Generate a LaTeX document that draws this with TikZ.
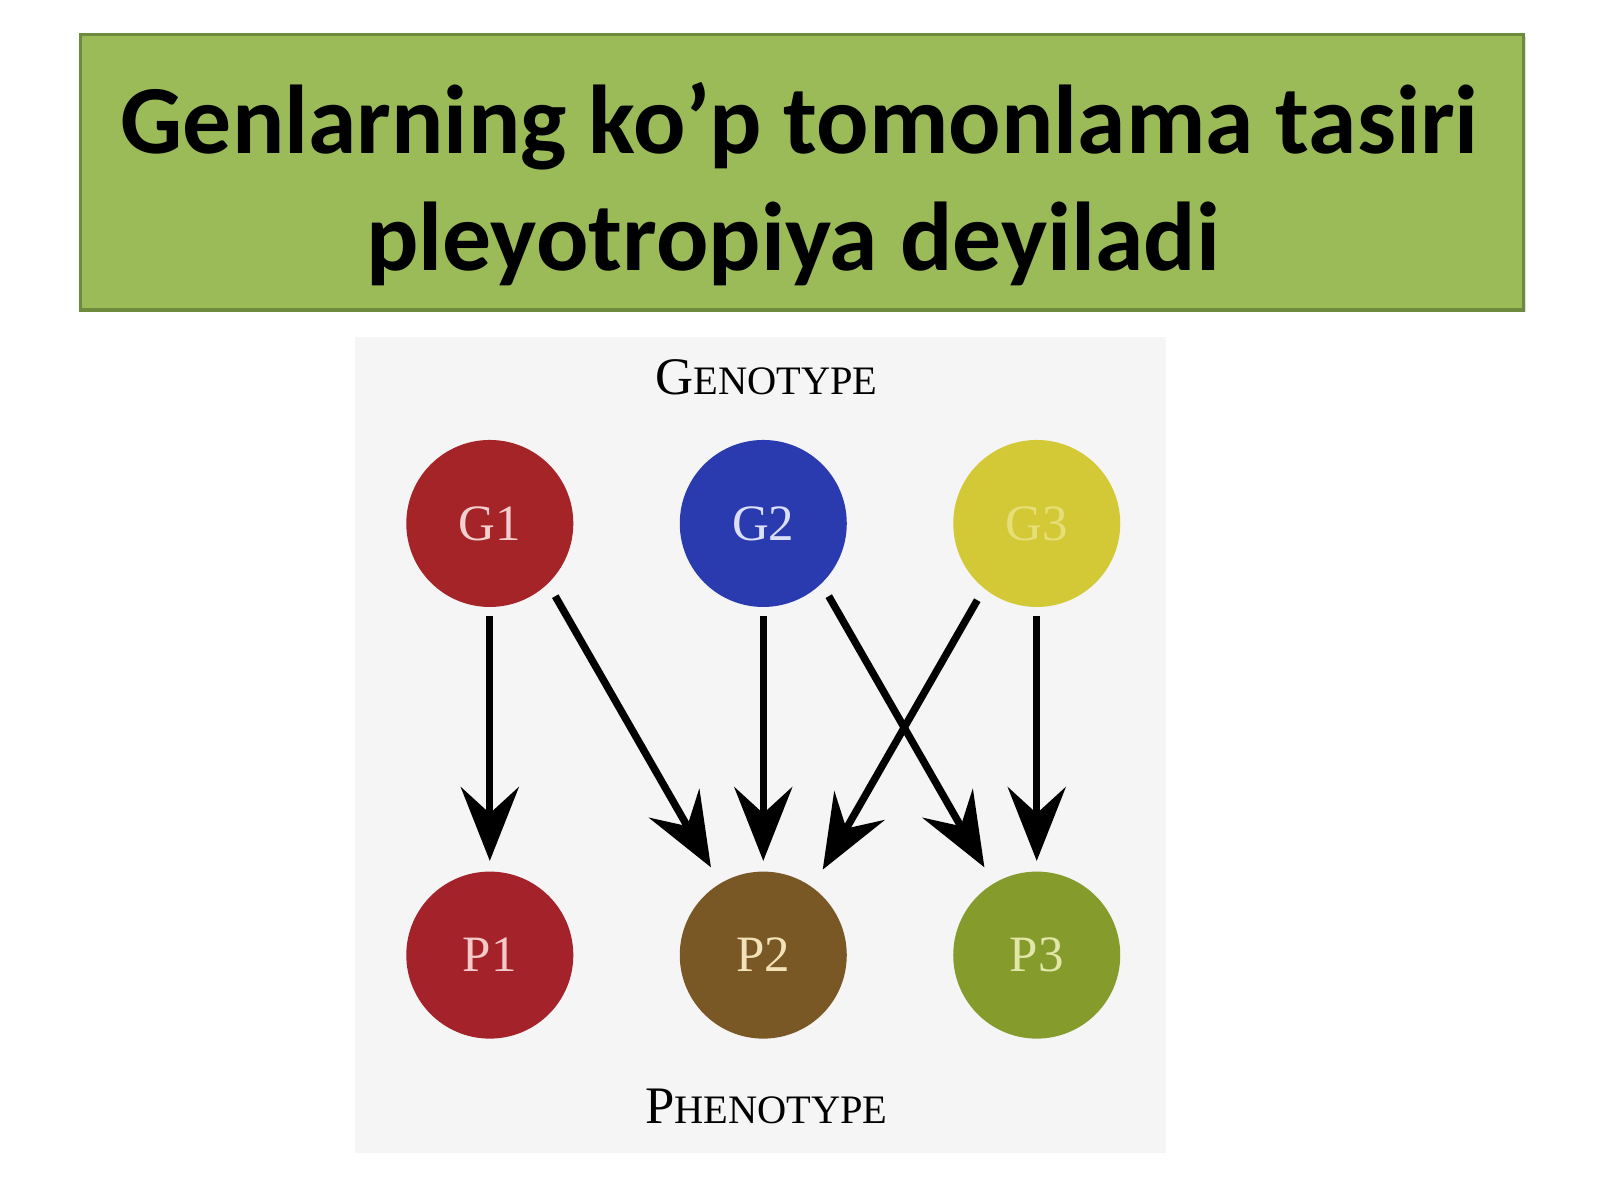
\documentclass[tikz,border=0pt]{standalone}
\usepackage{fontspec}
\setmainfont{Liberation Serif}
\newfontfamily\titlefont{Carlito}
\usetikzlibrary{arrows.meta}
\definecolor{titlefill}{HTML}{9BBB59}
\definecolor{titledraw}{HTML}{6E8B3D}
\definecolor{panel}{HTML}{F5F5F5}
\definecolor{cG1}{HTML}{A52428}
\definecolor{cG2}{HTML}{2A3BB0}
\definecolor{cG3}{HTML}{D3C936}
\definecolor{cP1}{HTML}{A4222A}
\definecolor{cP2}{HTML}{7A5826}
\definecolor{cP3}{HTML}{859B2B}
\definecolor{tG1}{HTML}{F4CFCF}
\definecolor{tG2}{HTML}{DCE0F6}
\definecolor{tG3}{HTML}{E6DE78}
\definecolor{tP1}{HTML}{F3CACA}
\definecolor{tP2}{HTML}{F2E2B8}
\definecolor{tP3}{HTML}{E2E6A8}
\tikzset{
  blob/.style={circle, minimum size=16.7mm, inner sep=0pt, draw=none,
    font=\fontsize{14.5}{14.5}\selectfont},
  arr/.style={line width=2.1pt, draw=black,
    -{Stealth[length=21pt, width=16.5pt, inset=7.5pt]}},
  heading/.style={inner sep=0pt},
  titletext/.style={font=\titlefont\bfseries\fontsize{27.8}{27.8}\selectfont, inner sep=0pt}
}
\begin{document}
\begin{tikzpicture}[x=0.10204mm, y=-0.10204mm]
\useasboundingbox (0,0) rectangle (1568,1176);
\fill[white] (0,0) rectangle (1568,1176);
% title box
\fill[gray!25] (81,36) rectangle (1495,306);
\filldraw[fill=titlefill, draw=titledraw, line width=1pt] (79,34) rectangle (1493,304);
\node[titletext, anchor=base] (t1) at (783.5,150) {Genlarning ko’p tomonlama tasiri};
\node[titletext, anchor=base west] (t2) at (358,265) {pleyotropiya deyiladi};
% panel
\fill[panel] (348,330) rectangle (1143,1130);
\node[heading, anchor=base] (geno) at (751,387)
  {{\fontsize{15}{15}\selectfont G}{\fontsize{11.5}{11.5}\selectfont ENOTYPE}};
\node[heading, anchor=base] (pheno) at (751,1101)
  {{\fontsize{15}{15}\selectfont P}{\fontsize{11.5}{11.5}\selectfont HENOTYPE}};
% circles
\node[blob, fill=cG1, text=tG1] (G1) at (480,513) {G1};
\node[blob, fill=cG2, text=tG2] (G2) at (748,513) {G2};
\node[blob, fill=cG3, text=tG3] (G3) at (1016,513) {G3};
\node[blob, fill=cP1, text=tP1] (P1) at (480,936) {P1};
\node[blob, fill=cP2, text=tP2] (P2) at (748,936) {P2};
\node[blob, fill=cP3, text=tP3] (P3) at (1016,936) {P3};
% arrows
\draw[arr, shorten <=0.8mm, shorten >=1.0mm] (G1.-90) -- (P1.90);
\draw[arr, shorten <=0.8mm, shorten >=1.0mm] (G2.-90) -- (P2.90);
\draw[arr, shorten <=0.8mm, shorten >=1.0mm] (G3.-90) -- (P3.90);
\draw[arr, shorten <=1.4mm, shorten >=1.8mm] (G1.-46) -- (P2.121);
\draw[arr, shorten <=1.4mm, shorten >=1.8mm] (G2.-46) -- (P3.121);
\draw[arr, shorten <=1.3mm, shorten >=2.0mm] (G3.231) -- (P2.54);
\end{tikzpicture}
\end{document}
